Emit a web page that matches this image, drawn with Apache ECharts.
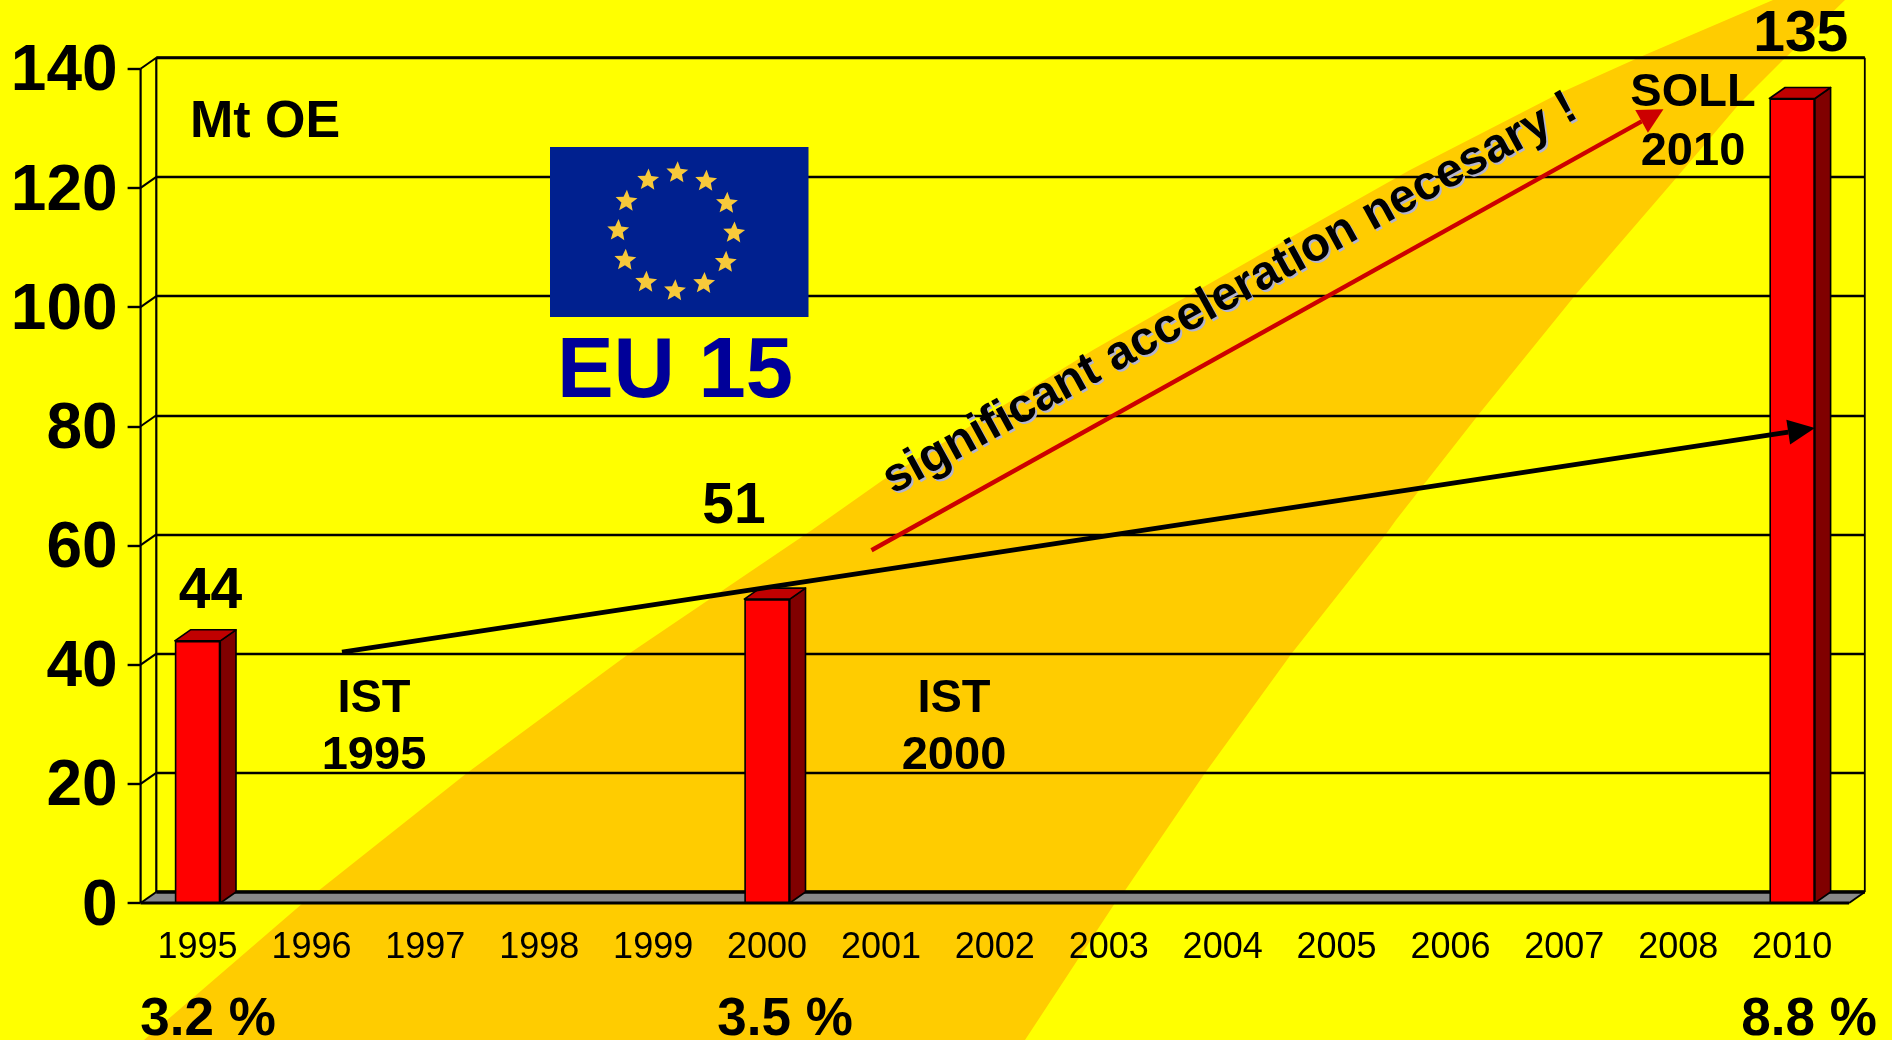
<!DOCTYPE html>
<html>
<head>
<meta charset="utf-8">
<style>html,body{margin:0;padding:0;background:#FFFF00}#c{width:1892px;height:1040px}</style>
<script src="https://cdn.jsdelivr.net/npm/echarts@6/dist/echarts.min.js"></script>
</head>
<body>
<div id="c"></div>
<script>
var categories = ['1995','1996','1997','1998','1999','2000','2001','2002','2003','2004','2005','2006','2007','2008','2010'];
var mtoeValues = [44,null,null,null,null,51,null,null,null,null,null,null,null,null,135];
var valueTicks = [0,20,40,60,80,100,120,140];
var istArrow  = [1.268, 42.1, 14.20, 79.7];
var sollArrow = [5.917, 59.2, 12.87, 133.2];
var shareTexts = ['3.2 %','3.5 %','8.8 %'];

var FONT = '"Liberation Sans", Arial, sans-serif';
var DX = 15.7, DY = -11;
var GL = 140.6, GT = 68.7, GW = 1708.5, GH = 834.3;

var band = [[144,1040],[303,903],[467,773],[630,653],[812,530],[883,480],[1093,350],[1300,232],[1410,170],[1560,93],[1640,57],[1773,0],
            [1845,0],[1783,60],[1740,103],[1677,177],[1577,293],[1479,414],[1396,520],[1386,534],[1292,653],[1205,773],[1124,892],[1115,903],[1025,1040]];

function txt(text,x,y,size,extra){
  return {type:'text',z:20,silent:true,x:x,y:y,rotation:(extra&&extra.rotation)||0,
    style:Object.assign({text:text,font:'bold '+size+'px '+FONT,fill:'#000',align:'center',verticalAlign:'middle'},(extra&&extra.style)||{})};
}
function star(cx,cy,r,rot){
  var pts=[];
  for(var i=0;i<10;i++){
    var rr=i%2?r*0.45:r, a=-Math.PI/2+rot+i*Math.PI/5;
    pts.push([cx+rr*Math.cos(a),cy+rr*Math.sin(a)]);
  }
  return {type:'polygon',z:6,silent:true,shape:{points:pts},style:{fill:'#F7C93A'}};
}
var flag=[{type:'rect',z:5,silent:true,shape:{x:550,y:147,width:258.5,height:170},style:{fill:'#00208F'}}];
for(var s=0;s<12;s++){
  var ang=-Math.PI/2+s*Math.PI/6+0.02;
  flag.push(star(676+58*Math.cos(ang),231.7+59*Math.sin(ang),11.5,0.05));
}

var graphicEls=[{type:'polygon',z:-1,silent:true,shape:{points:band},style:{fill:'#FFCC00'}}]
 .concat(flag)
 .concat([
  txt('Mt OE',265,123,52),
  txt('EU 15',675,374,85,{style:{fill:'#000099'}}),
  txt('IST',374,699,47), txt('1995',374,756,47),
  txt('IST',954,699,47), txt('2000',954,756,47),
  txt('SOLL',1693,93,47), txt('2010',1693,152,47),
  txt(shareTexts[0],208,1020,53), txt(shareTexts[1],785,1020,53), txt(shareTexts[2],1809,1020,53),
  {type:'text',z:20,silent:true,x:1230,y:294,rotation:0.5027,
   style:{text:'significant acceleration necesary !',font:'bold 48px '+FONT,fill:'#000',align:'center',verticalAlign:'middle',
          textShadowColor:'#B4B4CC',textShadowOffsetX:2,textShadowOffsetY:2,textShadowBlur:0.01}}
 ]);

function lineEl(a,b,w,color){
  return {type:'line',shape:{x1:a[0],y1:a[1],x2:b[0],y2:b[1]},style:{stroke:color||'#000',lineWidth:w}};
}
function add(p,dx,dy){return [p[0]+dx,p[1]+dy];}

function renderFrame(params,api){
  var fl=api.coord([-0.5,0]), fr=api.coord([14.5,0]), tl=api.coord([-0.5,140]);
  var bl=add(fl,DX,DY), br=add(fr,DX,DY), btl=add(tl,DX,DY), btr=add(api.coord([14.5,140]),DX,DY);
  var kids=[
    {type:'polygon',shape:{points:[fl,fr,br,bl]},style:{fill:'#888888'}},
    lineEl(bl,br,3.4), lineEl(fl,fr,2.8), lineEl(fr,br,1.8),
    lineEl(fl,tl,2.2), lineEl(bl,btl,2.2),
    lineEl(br,btr,1.8),
    lineEl(btl,btr,2.8)
  ];
  valueTicks.forEach(function(t){
    var p=api.coord([-0.5,t]);
    kids.push(lineEl(p,add(p,DX,DY),2));
  });
  return {type:'group',children:kids};
}
function renderDepth(params,api){
  var v=api.value(1);
  if(isNaN(v)||v==null) return null;
  var c=api.coord([api.value(0),v]), b=api.coord([api.value(0),0]);
  var w=45.5, xl=c[0]-w/2, xr=c[0]+w/2, yt=c[1], yb=b[1];
  var style=function(f){return {fill:f,stroke:'#000',lineWidth:1.6,lineJoin:'round'};};
  return {type:'group',children:[
    {type:'polygon',shape:{points:[[xr,yt],[xr+DX,yt+DY],[xr+DX,yb+DY],[xr,yb]]},style:style('#800000')},
    {type:'polygon',shape:{points:[[xl,yt],[xl+DX,yt+DY],[xr+DX,yt+DY],[xr,yt]]},style:style('#C00000')}
  ]};
}
function renderArrow(color,width,headLen,headHalf){
  return function(params,api){
    var a=api.coord([api.value(0),api.value(1)]), b=api.coord([api.value(2),api.value(3)]);
    var dx=b[0]-a[0], dy=b[1]-a[1], L=Math.sqrt(dx*dx+dy*dy), ux=dx/L, uy=dy/L;
    var base=[b[0]-ux*headLen,b[1]-uy*headLen];
    return {type:'group',children:[
      lineEl(a,base,width,color),
      {type:'polygon',shape:{points:[b,[base[0]-uy*headHalf,base[1]+ux*headHalf],[base[0]+uy*headHalf,base[1]-ux*headHalf]]},style:{fill:color}}
    ]};
  };
}
var labelOffsets={0:[13,-49],5:[-33,-92],14:[8.6,-63]};
function renderValueLabel(params,api){
  var i=api.value(0), v=api.value(1);
  if(isNaN(v)) return null;
  var c=api.coord([i,v]), o=labelOffsets[i]||[0,-40];
  return {type:'text',x:c[0]+o[0],y:c[1]+o[1],style:{text:String(v),font:'bold 57px '+FONT,fill:'#000',align:'center',verticalAlign:'middle'}};
}

var chart=echarts.init(document.getElementById('c'),null,{renderer:'canvas'});
chart.setOption({
  animation:false,
  backgroundColor:'#FFFF00',
  textStyle:{fontFamily:FONT},
  graphic:{elements:graphicEls},
  grid:[
    {left:GL,top:GT,width:GW,height:GH,containLabel:false},
    {left:GL+DX,top:GT+DY,width:GW,height:GH,containLabel:false}
  ],
  xAxis:[
    {type:'category',gridIndex:0,data:categories,boundaryGap:true,
     axisLine:{show:false},axisTick:{show:false},
     axisLabel:{interval:0,color:'#000',fontSize:36,fontFamily:FONT,margin:27,hideOverlap:false},splitLine:{show:false}},
    {type:'value',gridIndex:1,min:0,max:1,show:false,splitLine:{show:false}},
    {type:'value',gridIndex:0,min:-0.5,max:14.5,show:false,splitLine:{show:false}}
  ],
  yAxis:[
    {type:'value',gridIndex:0,min:0,max:140,interval:20,
     axisLine:{show:false,onZero:false},
     axisTick:{show:true,length:13,lineStyle:{color:'#000',width:2.4}},
     axisLabel:{color:'#000',fontSize:64,fontWeight:'bold',fontFamily:FONT,margin:23,verticalAlign:'top',lineHeight:8,hideOverlap:false,showMinLabel:true,showMaxLabel:true},
     splitLine:{show:false}},
    {type:'value',gridIndex:1,min:0,max:140,interval:20,
     axisLine:{show:false,onZero:false},axisTick:{show:false},axisLabel:{show:false},
     splitLine:{show:true,lineStyle:{color:'#000',width:2.3}}}
  ],
  series:[
    {type:'custom',name:'frame',xAxisIndex:2,yAxisIndex:0,silent:true,z:1,data:[[0,0]],renderItem:renderFrame,clip:false},
    {type:'custom',name:'depth',xAxisIndex:0,yAxisIndex:0,silent:true,z:2,renderItem:renderDepth,clip:false,
     data:mtoeValues.map(function(v,i){return [i,v];})},
    {type:'bar',name:'Mt OE',xAxisIndex:0,yAxisIndex:0,z:3,barWidth:45.5,data:mtoeValues,
     itemStyle:{color:'#FF0000',borderColor:'#000',borderWidth:1.6}},
    {type:'custom',name:'SOLL',xAxisIndex:2,yAxisIndex:0,silent:true,z:4,clip:false,
     encode:{x:[0,2],y:[1,3]},data:[sollArrow],renderItem:renderArrow('#CC0000',4.4,25,13)},
    {type:'custom',name:'IST',xAxisIndex:2,yAxisIndex:0,silent:true,z:4,clip:false,
     encode:{x:[0,2],y:[1,3]},data:[istArrow],renderItem:renderArrow('#000000',5,27,12.5)},
    {type:'custom',name:'labels',xAxisIndex:0,yAxisIndex:0,silent:true,z:21,clip:false,renderItem:renderValueLabel,
     data:mtoeValues.map(function(v,i){return [i,v];})}
  ]
});
</script>
</body>
</html>
